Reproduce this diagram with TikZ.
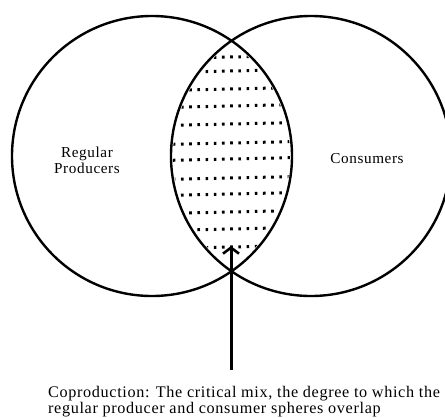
\documentclass[tikz,border=0pt]{standalone}
\usepackage{fontspec}
\setmainfont{Liberation Serif}[LetterSpace=4]
\usetikzlibrary{arrows.meta}
\tikzset{
  sphere/.style={circle, draw, line width=2.4pt, minimum size=280pt, inner sep=0pt},
  label/.style={font=\fontsize{15.2}{16}\selectfont, align=center, inner sep=0pt},
  caption/.style={font=\fontsize{16.2}{13.8}\selectfont, align=left, inner sep=0pt},
  dotrow/.style={line width=3pt, dash pattern=on 2.6pt off 5.6pt},
  pointer/.style={line width=3pt, -{Straight Barb[length=6pt,width=16pt,line width=2.6pt]}}
}
\begin{document}
\begin{tikzpicture}[x=1pt,y=-1pt]
\useasboundingbox (0,0) rectangle (445,418);
\node[sphere] (L) at (152,156) {};
\node[sphere] (R) at (311,156) {};
\begin{scope}
  \clip (152,156) circle (138);
  \clip (311,156) circle (138);
  \foreach \y in {57,71,89,106,124,143,159,178,194,212,229,247}
    \draw[dotrow] (140,\y+2) -- (320,\y-2);
\end{scope}
\node[label, anchor=base] (prod) at (87,173) {Regular\\Producers};
\node[label, anchor=base] (cons) at (367,163) {Consumers};
\node[caption, anchor=north west] (cap) at (48,386) {Coproduction: The critical mix, the degree to which the\\regular producer and consumer spheres overlap};
\coordinate (tail) at (231,370);
\coordinate (tip) at (231,246);
\draw[pointer] (tail) -- (tip);
\end{tikzpicture}
\end{document}
